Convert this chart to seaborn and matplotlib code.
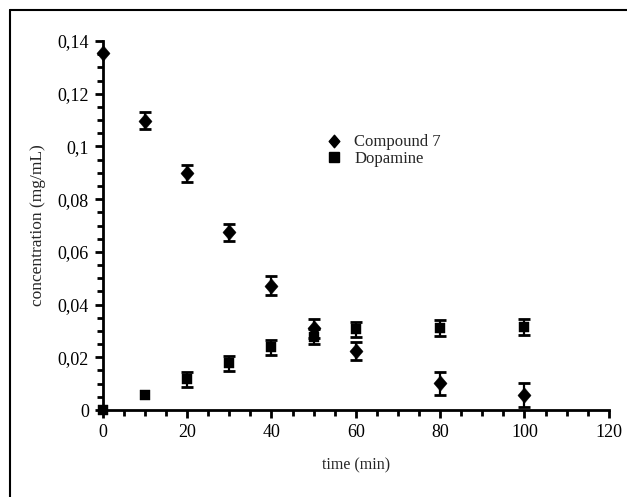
import matplotlib
matplotlib.use("Agg")
import matplotlib.pyplot as plt
import seaborn as sns
import pandas as pd
from matplotlib.ticker import MultipleLocator, FuncFormatter
from matplotlib.lines import Line2D
from matplotlib.path import Path

time = [0, 10, 20, 30, 40, 50, 60, 80, 100]
compound7 = [0.1355, 0.1098, 0.0898, 0.0674, 0.0472, 0.0310, 0.0225, 0.0101, 0.0057]
compound7_err = [0.0, 0.0032, 0.0033, 0.0033, 0.0036, 0.0036, 0.0034, 0.0044, 0.0047]
dopamine = [0.0, 0.0057, 0.0116, 0.0177, 0.0238, 0.0278, 0.0306, 0.0310, 0.0314]
dopamine_err = [0.0, 0.0, 0.0028, 0.0028, 0.0028, 0.0028, 0.0028, 0.0030, 0.0030]
series_names = ["Compound 7", "Dopamine"]

df = pd.DataFrame({
    "time": time * 2,
    "conc": compound7 + dopamine,
    "err": compound7_err + dopamine_err,
    "series": [series_names[0]] * len(time) + [series_names[1]] * len(time),
})

sns.set_style("ticks")
plt.rcParams["font.family"] = ["Liberation Serif", "DejaVu Serif"]

fig = plt.figure(figsize=(6.27, 4.97), dpi=100)
ax = fig.add_axes([0.164, 0.175, 0.807, 0.7425])

diamond = Path([(0, 1), (0.85, 0), (0, -1), (-0.85, 0), (0, 1)],
               [Path.MOVETO, Path.LINETO, Path.LINETO, Path.LINETO, Path.CLOSEPOLY])

for name in series_names:
    sub = df[(df["series"] == name) & (df["err"] > 0)]
    ax.errorbar(sub["time"], sub["conc"], yerr=sub["err"], fmt="none",
                ecolor="black", elinewidth=1.6, capsize=4.5, capthick=2.0,
                zorder=2, clip_on=False)

for name, mk, sz in [("Compound 7", diamond, 125), ("Dopamine", "s", 50)]:
    sub = df[df["series"] == name]
    sns.scatterplot(data=sub, x="time", y="conc", marker=mk, color="black",
                    s=sz, edgecolor="black", linewidth=0.3, ax=ax, legend=False,
                    zorder=3, clip_on=False)

ax.set_xlim(0, 120)
ax.set_ylim(0, 0.14)
ax.xaxis.set_major_locator(MultipleLocator(20))
ax.xaxis.set_minor_locator(MultipleLocator(5))
ax.yaxis.set_major_locator(MultipleLocator(0.02))
ax.yaxis.set_minor_locator(MultipleLocator(0.005))
ax.yaxis.set_major_formatter(FuncFormatter(lambda v, p: ("%g" % round(v, 4)).replace(".", ",")))
ax.tick_params(axis="both", which="major", direction="out", length=6, width=2,
               labelsize=13, colors="black", pad=4)
ax.tick_params(axis="both", which="minor", direction="out", length=4, width=2, colors="black")
for s in ["top", "right"]:
    ax.spines[s].set_visible(False)
for s in ["left", "bottom"]:
    ax.spines[s].set_linewidth(2)
    ax.spines[s].set_color("black")

ax.set_xlabel("time (min)", fontsize=11.5, labelpad=12)
ax.set_ylabel("concentration (mg/mL)", fontsize=12.5, labelpad=8)

handles = [Line2D([], [], marker=diamond, color="black", linestyle="none", markersize=9),
           Line2D([], [], marker="s", color="black", linestyle="none", markersize=6.5)]
ax.legend(handles, series_names, loc="upper left", bbox_to_anchor=(0.424, 0.765),
          frameon=False, fontsize=12, handletextpad=0.6, labelspacing=0.02,
          handlelength=1.2, borderaxespad=0)

fig.add_artist(Line2D([0.016, 0.016], [0.0, 0.98], transform=fig.transFigure,
                      color="black", linewidth=1.5))
fig.add_artist(Line2D([0.016, 1.0], [0.98, 0.98], transform=fig.transFigure,
                      color="black", linewidth=1.5))

fig.savefig("out.png", dpi=100, facecolor="white")
